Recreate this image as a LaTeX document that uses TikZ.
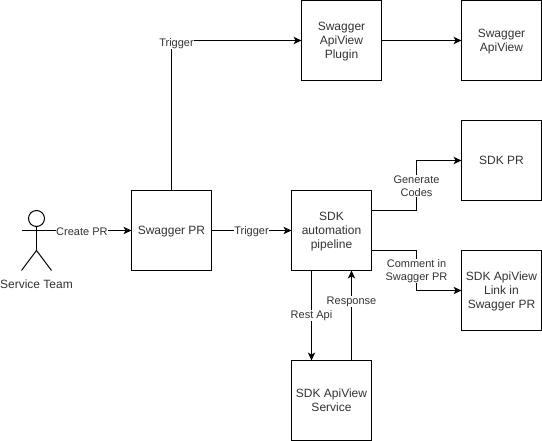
\documentclass[tikz,border=0pt]{standalone}
\usepackage{fontspec}
\setmainfont{Liberation Sans}
\usetikzlibrary{arrows.meta}
\newcommand{\boxlines}[1]{\raisebox{-1pt}[\height][\depth]{\begin{tabular}{@{}c@{}}#1\end{tabular}}}
\tikzset{
  box/.style={draw=black,fill=white,line width=0.75pt,minimum width=60pt,minimum height=60pt,inner sep=0pt,outer sep=0pt,font=\fontsize{9}{10.5}\selectfont,text=black!80},
  conn/.style={draw=black,line width=0.75pt},
  arr/.style={conn,-{Stealth[length=6pt,width=5.5pt,inset=1.6pt]}},
  lab/.style={fill=white,inner sep=0.4pt,align=center,yshift=-0.9pt,font=\fontsize{8.25}{9.8}\selectfont,text=black!80},
  actorpart/.style={draw=black,line width=0.75pt},
}
\begin{document}
\begin{tikzpicture}[x=0.75pt,y=-0.75pt]
\useasboundingbox (0,0) rectangle (542,441);
\fill[white] (0,0) rectangle (542,441);
% boxes
\node[box] (swaggerpr) at (171.5,230.5) {\boxlines{Swagger PR}};
\node[box] (pipeline) at (331.5,230.5) {\boxlines{SDK\\automation\\pipeline}};
\node[box] (plugin) at (341.5,40.5) {\boxlines{Swagger\\ApiView\\Plugin}};
\node[box] (apiview) at (501.5,40.5) {\boxlines{Swagger\\ApiView}};
\node[box] (sdkpr) at (501.5,160.5) {\boxlines{SDK PR}};
\node[box] (link) at (501.5,290.5) {\boxlines{SDK ApiView\\Link in\\Swagger PR}};
\node[box] (service) at (331.5,400.5) {\boxlines{SDK ApiView\\Service}};
% actor
\node[actorpart,circle,minimum size=12pt,inner sep=0pt,outer sep=0pt] (head) at (36.5,218.5) {};
\coordinate (hip) at (36.5,250.5);
\coordinate (handl) at (21.5,230.5);
\coordinate (handr) at (51.5,230.5);
\coordinate (footl) at (21.5,270.5);
\coordinate (footr) at (51.5,270.5);
\draw[actorpart] (head.south) -- (hip);
\draw[actorpart] (handl) -- (handr);
\draw[actorpart] (footl) -- (hip) -- (footr);
\node[font=\fontsize{9}{12}\selectfont,text=black!80,inner sep=0pt] (actorlabel) at (36.5,284.5) {Service Team};
% connectors
\draw[arr] (handr) -- node[lab,pos=0.38] {Create PR} (swaggerpr.west);
\draw[arr] (swaggerpr.east) -- node[lab,pos=0.5] {Trigger} (pipeline.west);
\draw[arr] (swaggerpr.north) |- (plugin.west);
\node[lab] (trig) at (176.5,42) {Trigger};
\draw[arr] (plugin.east) -- (apiview.west);
\coordinate (pipeA) at ([yshift=15pt]pipeline.east);
\coordinate (pipeB) at ([yshift=-15pt]pipeline.east);
\coordinate (bendA) at (416.5,190);
\coordinate (bendB) at (416.5,270);
\draw[arr] (pipeA) -| (bendA) |- (sdkpr.west);
\node[lab] (gen) at (416.5,185) {Generate\\Codes};
\draw[arr] (pipeB) -| (bendB) |- (link.west);
\node[lab] (com) at (416.5,270) {Comment in\\Swagger PR};
\draw[arr] ([xshift=-15pt]pipeline.south) -- node[lab,pos=0.49] {Rest Api} ([xshift=-15pt]service.north);
\draw[arr] ([xshift=15pt]service.north) -- node[lab,pos=0.67] {Response} ([xshift=15pt]pipeline.south);
\end{tikzpicture}
\end{document}
